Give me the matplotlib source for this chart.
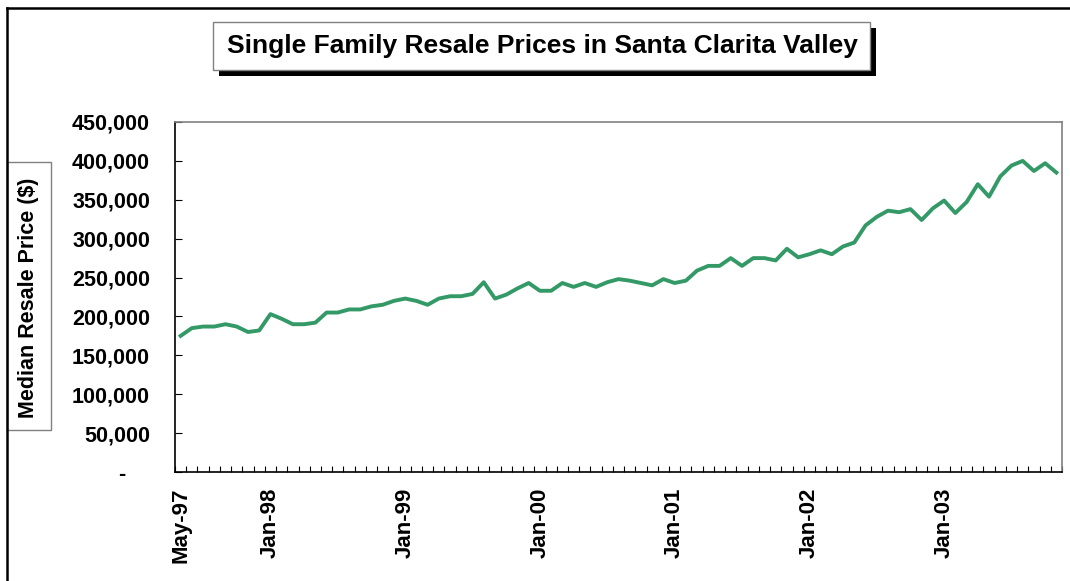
import matplotlib
matplotlib.use("Agg")
import matplotlib.pyplot as plt
from matplotlib.patches import Rectangle
from matplotlib.lines import Line2D
import pandas as pd

# monthly median resale prices, May-97 .. Nov-03
prices = [175000, 185000, 187000, 187000, 190000, 187000, 180000, 182000,
          203000, 197000, 190000, 190000, 192000, 205000, 205000, 209000, 209000, 213000, 215000, 220000,
          223000, 220000, 215000, 223000, 226000, 226000, 229000, 244000, 223000, 228000, 236000, 243000,
          233000, 233000, 243000, 238000, 243000, 238000, 244000, 248000, 246000, 243000, 240000, 248000,
          243000, 246000, 259000, 265000, 265000, 275000, 265000, 275000, 275000, 272000, 287000, 276000,
          280000, 285000, 280000, 290000, 295000, 317000, 328000, 336000, 334000, 338000, 324000, 339000,
          349000, 333000, 347000, 370000, 354000, 380000, 394000, 400000, 387000, 397000, 385000]
months = pd.date_range("1997-05-01", periods=len(prices), freq="MS")
label_months = ["1997-05", "1998-01", "1999-01", "2000-01", "2001-01", "2002-01", "2003-01"]
y_ticks = [0, 50000, 100000, 150000, 200000, 250000, 300000, 350000, 400000, 450000]

plt.rcParams['font.family'] = ['Liberation Sans', 'DejaVu Sans']
plt.rcParams['font.weight'] = 'bold'

fig = plt.figure(figsize=(10.7, 5.81), dpi=100)
W, H = 1070.0, 581.0

# outer chart border (only top and left visible in the crop)
fig.add_artist(Line2D([7 / W, 7 / W], [0, 1 - 8 / H], color='black', lw=1.8))
fig.add_artist(Line2D([7 / W, 1], [1 - 8 / H, 1 - 8 / H], color='black', lw=1.8))

ax = fig.add_axes([175 / W, 1 - 472 / H, 887 / W, 350 / H])
x = list(range(len(prices)))
ax.plot(x, prices, color='#339966', lw=2.8, solid_joinstyle='round')

ax.set_xlim(-0.5, len(prices) - 0.5)
ax.set_ylim(0, 450000)

pos = [months.get_loc(pd.Timestamp(m)) for m in label_months]
ax.set_xticks(pos)
ax.set_xticklabels([months[p].strftime("%b-%y") for p in pos], rotation=90, va='top', ha='center')
ax.set_xticks([i - 0.5 for i in range(len(prices) + 1)], minor=True)
ax.tick_params(axis='x', which='major', length=0, pad=11, labelsize=16)
ax.tick_params(axis='x', which='minor', direction='in', length=4, width=0.8)

ax.set_yticks(y_ticks)
ax.set_yticklabels(["-    "] + [f"{v:,}" for v in y_ticks[1:]])
ax.tick_params(axis='y', direction='in', length=5, width=0.8, pad=18, labelsize=15.5)

for s in ['top', 'right']:
    ax.spines[s].set_color('#808080')
    ax.spines[s].set_linewidth(1.2)
for s in ['left', 'bottom']:
    ax.spines[s].set_color('black')
    ax.spines[s].set_linewidth(1.2)

# y label in its own box
fig.add_artist(Rectangle((7 / W, 1 - 430 / H), 44 / W, 268 / H, transform=fig.transFigure,
                         facecolor='white', edgecolor='#808080', lw=1))
fig.text(29 / W, 1 - 298 / H, "Median Resale Price ($)", rotation=90, ha='center', va='center',
         fontsize=15.5, fontweight='bold')

# title box with drop shadow
fig.add_artist(Rectangle((219 / W, 1 - 76 / H), 657 / W, 48 / H, transform=fig.transFigure,
                         facecolor='black', edgecolor='black', lw=0))
fig.add_artist(Rectangle((213 / W, 1 - 70 / H), 657 / W, 48 / H, transform=fig.transFigure,
                         facecolor='white', edgecolor='#808080', lw=1))
fig.text(542 / W, 1 - 46 / H, "Single Family Resale Prices in Santa Clarita Valley",
         ha='center', va='center', fontsize=19, fontweight='bold')

fig.savefig("out.png", dpi=100)
